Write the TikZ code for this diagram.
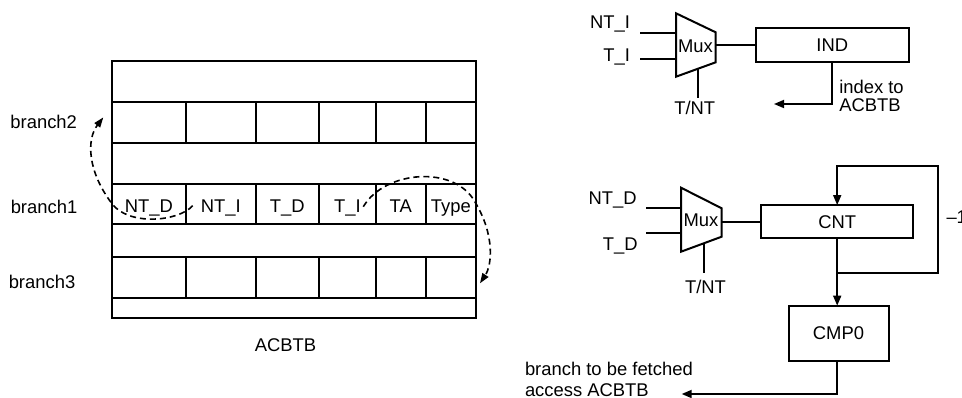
\documentclass[tikz,border=0pt]{standalone}
\usepackage{fontspec}
\setmainfont{Liberation Sans}
\usetikzlibrary{arrows.meta,calc}

\begin{document}
\begin{tikzpicture}[x=1pt,y=-1pt,
  font=\fontsize{18.4}{21}\selectfont,
  box/.style={draw,line width=2pt,inner sep=0pt,outer sep=0pt},
  cell/.style={box,anchor=north west,text height=17pt,text depth=0pt},
  wire/.style={line width=1.7pt},
  arr/.style={wire,-{Triangle[length=10pt,width=8pt]}},
  hop/.style={line width=1.6pt,dash pattern=on 6pt off 4pt,-{Triangle[length=10pt,width=7pt]}},
  muxbody/.style={line width=2pt,line join=miter},
  lbl/.style={inner sep=0pt,outer sep=0pt}]
\useasboundingbox (0,0) rectangle (962,398);

% ---------------- ACBTB table ----------------
\node[cell,minimum width=364pt,minimum height=41.6pt] (band0) at (112,60.7) {};
\node[cell,minimum width=364pt,minimum height=40.7pt] (band1) at (112,143.3) {};
\node[cell,minimum width=364pt,minimum height=33.3pt] (band2) at (112,224) {};
\node[cell,minimum width=364pt,minimum height=20pt]   (band3) at (112,297.7) {};

\foreach \c/\xl/\w in {1/112/73.7, 2/185.7/70, 3/255.7/63.3, 4/319/56.7, 5/375.7/50, 6/425.7/50.3} {
  \node[cell,minimum width=\w pt,minimum height=41pt]   (b2c\c) at (\xl,102.3) {};
  \node[cell,minimum width=\w pt,minimum height=40.4pt] (b3c\c) at (\xl,257.3) {};
}
\foreach \c/\xl/\w/\t in {1/112/73.7/NT\_D, 2/185.7/70/NT\_I, 3/255.7/63.3/T\_D,
                          4/319/56.7/T\_I, 5/375.7/50/TA, 6/425.7/50.3/Type} {
  \node[cell,minimum width=\w pt,minimum height=40pt] (b1c\c) at (\xl,184) {\t};
}

\node[lbl] (lab2) at (43.7,122) {branch2};
\node[lbl] (lab1) at (44,206.5) {branch1};
\node[lbl] (lab3) at (42,281.5) {branch3};
\node[lbl] (tname) at (285.5,345) {ACBTB};

% dashed hops between entries
\coordinate (h1s) at ($(b1c2.west)+(7,1.7)$);
\coordinate (h1e) at ($(b2c1.west)+(-8.7,-5.4)$);
\draw[hop] (h1s) .. controls (178,222) and (128,226) .. (111.7,203.3)
                 .. controls (88,172) and (86,140) .. (h1e);
\coordinate (h2s) at ($(b1c4.east)+(-12.4,2.7)$);
\coordinate (h2e) at ($(b3c6.east)+(4,5.8)$);
\draw[hop] (h2s) .. controls (385,170) and (455,165) .. (475,202)
                 .. controls (495,235) and (492,265) .. (h2e);

% ---------------- index multiplexer ----------------
\coordinate (m1a) at (676,13.3);
\coordinate (m1b) at (715.7,32.3);
\coordinate (m1c) at (715.7,62.3);
\coordinate (m1d) at (676,76.7);
\draw[muxbody] (m1a) -- (m1b) -- (m1c) -- (m1d) -- cycle;
\node[lbl] (mux1) at (695.5,46) {Mux};

\coordinate (i1a) at (640,33.3);
\coordinate (i1b) at (640,59);
\draw[wire] (i1a) -- (i1a -| m1a);
\draw[wire] (i1b) -- (i1b -| m1a);
\node[lbl,anchor=base east] (nti) at (630,28.3) {NT\_I};
\node[lbl,anchor=base east] (ti) at (630,61.7) {T\_I};

\coordinate (s1a) at (698.3,68.6);
\coordinate (s1b) at (698.3,98.3);
\draw[wire] (s1a) -- (s1b);
\node[lbl,anchor=base] (sel1) at (694.7,115) {T/NT};

\node[box,minimum width=153.3pt,minimum height=34pt] (ind) at (832.3,45.3) {IND};
\coordinate (m1o) at (715.7,45.3);
\draw[wire] (m1o) -- (ind.west);

\coordinate (q1) at (832.3,104);
\coordinate (q1e) at (774,104);
\draw[arr] (ind.south) -- (q1) -- (q1e);
\node[lbl,anchor=base west] (ix1) at (839.3,93.3) {index to};
\node[lbl,anchor=base west] (ix2) at (839.3,111.7) {ACBTB};

% ---------------- distance multiplexer and counter ----------------
\coordinate (m2a) at (681,187.7);
\coordinate (m2b) at (721.7,208.3);
\coordinate (m2c) at (721.7,236.7);
\coordinate (m2d) at (681,251.7);
\draw[muxbody] (m2a) -- (m2b) -- (m2c) -- (m2d) -- cycle;
\node[lbl] (mux2) at (701,220) {Mux};

\coordinate (i2a) at (646,208.3);
\coordinate (i2b) at (646,233.3);
\draw[wire] (i2a) -- (i2a -| m2a);
\draw[wire] (i2b) -- (i2b -| m2a);
\node[lbl,anchor=base east] (ntd) at (636.7,205) {NT\_D};
\node[lbl,anchor=base east] (td) at (637.7,251) {T\_D};

\coordinate (s2a) at (704.3,243.1);
\coordinate (s2b) at (704.3,273.3);
\draw[wire] (s2a) -- (s2b);
\node[lbl,anchor=base] (sel2) at (705.5,294) {T/NT};

\node[box,minimum width=152.3pt,minimum height=33.3pt] (cnt) at (837.2,221.7) {CNT};
\coordinate (m2o) at (721.7,221.7);
\draw[wire] (m2o) -- (cnt.west);

\coordinate (j) at (837.2,273.3);
\coordinate (fr) at (938.3,273.3);
\coordinate (ft) at (938.3,166);
\draw[wire] (cnt.south) -- (j);
\draw[arr] (j) -- (fr) -- (ft) -- (ft -| cnt.north) -- (cnt.north);
\node[lbl,anchor=base west] (dec) at (946.5,224) {–1};

\node[box,minimum width=100pt,minimum height=55.3pt] (cmp) at (838.5,333.3) {CMP0};
\draw[arr] (j) -- (j |- cmp.north);

\coordinate (o) at (837.2,394);
\coordinate (oe) at (681.7,394);
\draw[arr] (j |- cmp.south) -- (o) -- (oe);
\node[lbl,anchor=base west] (fx1) at (525,375) {branch to be fetched};
\node[lbl,anchor=base west] (fx2) at (525,396) {access ACBTB};
\end{tikzpicture}
\end{document}
